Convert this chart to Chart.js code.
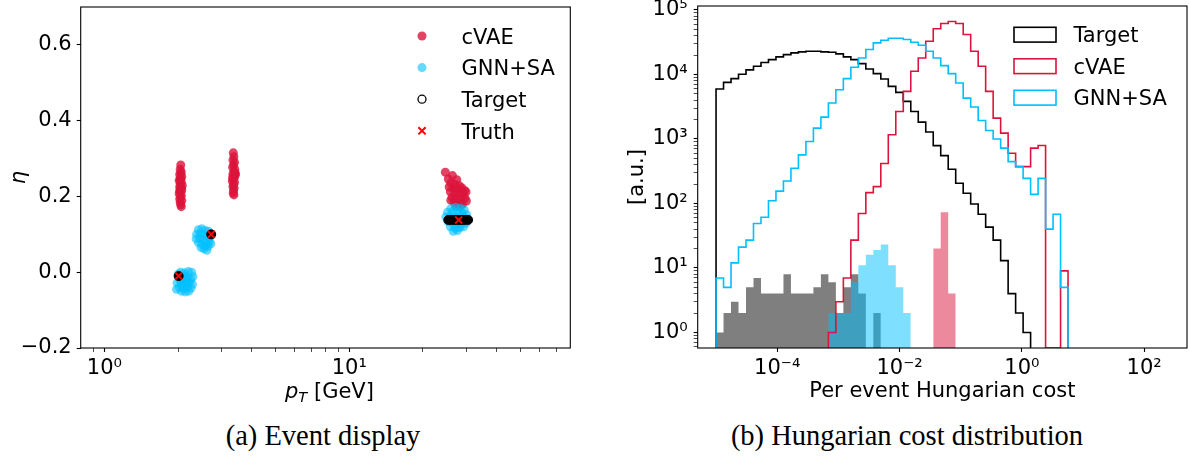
<!DOCTYPE html>
<html>
<head>
<meta charset="utf-8">
<title>Event display and Hungarian cost distribution</title>
<script src="https://cdn.jsdelivr.net/npm/chart.js@4.4.1/dist/chart.umd.min.js"></script>
<style>
  html, body { margin: 0; padding: 0; background: #fff; }
  #page { position: relative; width: 1189px; height: 456px; overflow: hidden; }
  canvas { position: absolute; top: 0; }
  .caption { position: absolute; top: 422px; line-height: 1; font-family: "Liberation Serif", serif;
             font-size: 28.5px; color: #000; white-space: nowrap; transform: translateX(-50%); }
</style>
</head>
<body>
<div id="page">
  <canvas id="eventDisplay" width="600" height="410" style="left:0"></canvas>
  <canvas id="costHist" width="589" height="410" style="left:600px"></canvas>
  <div class="caption" style="left:323px">(a) Event display</div>
  <div class="caption" style="left:907px">(b) Hungarian cost distribution</div>
</div>
<script>
// ---------- (a) event display: [pT, eta] ----------
const cvaePoints = [
  [2.05,0.283],[2.04,0.272],[2.06,0.265],[2.03,0.258],[2.07,0.252],[2.05,0.247],[2.02,0.242],
  [2.06,0.238],[2.04,0.233],[2.08,0.229],[2.03,0.225],[2.05,0.221],[2.07,0.216],[2.04,0.212],
  [2.02,0.207],[2.06,0.203],[2.05,0.198],[2.03,0.193],[2.07,0.189],[2.04,0.184],[2.05,0.178],
  [2.06,0.173],[2.05,0.260],[2.04,0.245],[2.06,0.222],[2.03,0.215],
  [3.36,0.315],[3.38,0.305],[3.35,0.296],[3.40,0.290],[3.37,0.283],[3.34,0.277],[3.41,0.271],
  [3.38,0.265],[3.35,0.259],[3.42,0.256],[3.39,0.250],[3.36,0.246],[3.33,0.241],[3.40,0.237],
  [3.37,0.232],[3.35,0.226],[3.39,0.222],[3.37,0.215],[3.36,0.209],[3.38,0.204],[3.41,0.262],
  [3.34,0.250],[3.43,0.260],
  [24.7,0.264],[26.4,0.255],[25.4,0.246],[27.5,0.244],[26.0,0.235],[27.0,0.232],[28.2,0.228],
  [25.6,0.225],[26.6,0.222],[27.6,0.219],[28.8,0.223],[29.6,0.216],[25.9,0.212],[27.0,0.208],
  [28.2,0.206],[29.2,0.205],[30.0,0.212],[26.3,0.198],[27.4,0.195],[28.6,0.193],[29.7,0.196],
  [26.8,0.186],[27.9,0.183],[29.0,0.180],[30.1,0.188],[27.2,0.176],[28.4,0.174],[26.0,0.190]
];
const gnnPoints = [
  [2.00,-0.005],[2.05,0.000],[2.12,-0.002],[2.20,0.002],[2.27,0.000],[2.30,-0.012],[2.25,-0.020],
  [2.18,-0.015],[2.10,-0.018],[2.03,-0.020],[1.98,-0.028],[2.06,-0.030],[2.14,-0.030],[2.22,-0.028],
  [2.29,-0.032],[2.26,-0.042],[2.18,-0.040],[2.10,-0.042],[2.02,-0.040],[1.97,-0.045],[2.06,-0.050],
  [2.14,-0.052],[2.21,-0.050],[2.12,-0.010],[2.17,-0.025],[2.08,-0.035],
  [2.42,0.112],[2.50,0.115],[2.58,0.110],[2.66,0.108],[2.38,0.100],[2.46,0.102],[2.55,0.098],
  [2.63,0.096],[2.70,0.092],[2.37,0.088],[2.45,0.090],[2.53,0.086],[2.61,0.082],[2.68,0.080],
  [2.42,0.078],[2.50,0.074],[2.58,0.070],[2.65,0.068],[2.55,0.062],[2.62,0.058],[2.48,0.065],
  [2.72,0.075],
  [26.0,0.168],[27.2,0.171],[28.4,0.169],[29.5,0.165],[25.2,0.158],[26.5,0.160],[27.8,0.158],
  [29.0,0.156],[30.2,0.152],[24.8,0.146],[25.8,0.148],[27.0,0.146],[28.2,0.147],[29.5,0.145],
  [30.6,0.140],[25.3,0.134],[26.4,0.130],[27.6,0.130],[28.8,0.128],[30.0,0.130],[25.9,0.120],
  [27.1,0.116],[28.3,0.118],[29.3,0.120],[26.6,0.108],[27.7,0.110]
];
const targetPoints = [
  [2.01,-0.010],[2.73,0.100],
  [25.4,0.138],[26.0,0.138],[26.7,0.138],[27.4,0.138],[28.1,0.138],[28.9,0.138],[29.7,0.138],[30.6,0.138]
];
const truthPoints = [[2.01,-0.010],[2.73,0.100],[28.0,0.138]];
const ptTicks = [0.9, 1, 2, 3, 4, 5, 6, 7, 8, 9, 10, 20, 30, 40, 50, 60, 70];
const ptLabelled = [1, 10];
const etaTicks = [-0.2, 0, 0.2, 0.4, 0.6];

// ---------- (b) Hungarian cost histograms (49 log bins from 1e-5 to 10) ----------
const binEdges = Array.from({length: 50}, (_, i) => Math.pow(10, -5 + 6 * i / 49));
const targetCounts = [5960,7530,8610,10050,11750,13370,15280,16980,18710,20320,
  21580,22390,22910,22910,22390,22080,20800,18710,16980,14720,
  12160,10280,8510,6530,5270,3820,2670,1820,1280,789,
  552,339,206,144,98,68,43,27,13,4,
  2,1,0,0,0,0,0,0,0];
const cvaeCounts = [0,0,0,0,0,0,0,0,0,0,
  0,0,0,0,0,1,3,7,27,70,
  147,182,417,1160,2670,5460,11200,18000,32700,51000,
  61700,66100,61700,41600,22900,13400,5460,2100,1230,601,
  372,372,720,790,0,0,9,0,0];
const gnnCounts = [7,5,12,21,27,49,61,110,155,223,
  352,566,912,1470,2180,3600,5800,8600,12900,18000,
  24300,30900,33900,36400,36400,34800,31600,28400,22900,18000,
  13700,10300,7380,4300,3120,1930,1350,1000,720,445,
  372,245,138,245,40,68,5,0,0];
const targetFillCounts = [1,2,3,2,5,7,4,4,4,8, 4,4,4,5,8,6,2,5,8,4, 0,2,0,0,0,0,0,0,0,0,
  0,0,0,0,0,0,0,0,0,0, 0,0,0,0,0,0,0,0,0];
const gnnFillCounts = [0,0,0,0,0,0,0,0,0,0, 0,0,0,0,0,2,2,2,6,11, 16,19,23,11,5,2,0,0,0,0,
  0,0,0,0,0,0,0,0,0,0, 0,0,0,0,0,0,0,0,0];
const cvaeFillCounts = [0,0,0,0,0,0,0,0,0,0, 0,0,0,0,0,0,0,0,0,0, 0,0,0,0,0,0,0,0,0,20,
  73,4,0,0,0,0,0,0,0,0, 0,0,0,0,0,0,0,0,0];
const costTicks = [1e-4, 1e-2, 1, 1e2];
const countDecades = [1, 10, 100, 1000, 10000, 100000];
const countTicks = [0.6, 0.7, 0.8, 0.9].concat(
  [1, 10, 100, 1000, 10000].flatMap(d => [1, 2, 3, 4, 5, 6, 7, 8, 9].map(m => m * d)), [100000]);

const COST_MIN = Math.pow(10, -5.3), COST_MAX = Math.pow(10, 2.7);
const COUNT_MIN = Math.pow(10, -0.241), COUNT_MAX = Math.pow(10, 5.061);

const FONT = 'DejaVu Sans';
Chart.defaults.font.family = FONT;
Chart.defaults.font.size = 21;
Chart.defaults.color = '#000';

const SUP = {'-': '\u207B', '0': '\u2070', '1': '\u00B9', '2': '\u00B2', '3': '\u00B3', '4': '\u2074', '5': '\u2075'};
function pow10Label(v) {
  const e = Math.round(Math.log10(v));
  return '10' + String(e).split('').map(c => SUP[c]).join('');
}
function isDecade(v) {
  const l = Math.log10(v);
  return Math.abs(l - Math.round(l)) < 1e-9;
}
const toXY = pts => pts.map(([x, y]) => ({x, y}));

// step outline points for one histogram, empty bins sit on the axis floor
function stepPoints(counts) {
  let i0 = counts.findIndex(c => c > 0);
  let i1 = counts.length - 1;
  while (i1 > i0 && counts[i1] <= 0) i1--;
  const pts = [{x: binEdges[i0], y: COUNT_MIN}];
  for (let i = i0; i <= i1; i++) pts.push({x: binEdges[i], y: counts[i] > 0 ? counts[i] : COUNT_MIN});
  pts.push({x: binEdges[i1 + 1], y: COUNT_MIN});
  return pts;
}
function histLine(label, counts, color) {
  return {label, data: stepPoints(counts), stepped: true, borderColor: color, borderWidth: 1.6,
          pointRadius: 0, fill: false};
}
function histFill(counts, color) {
  return {data: stepPoints(counts), stepped: true, borderColor: 'rgba(0,0,0,0)', borderWidth: 0,
          pointRadius: 0, fill: 'start', backgroundColor: color};
}

function zeroPad(s) { s.paddingLeft = s.paddingRight = s.paddingTop = s.paddingBottom = 0; }
const tickGrid = {
  drawOnChartArea: false, tickLength: 4, color: '#000',
  tickWidth: c => (c.tick && c.tick.major) ? 1.1 : 0.7
};

const frame = {
  id: 'frame',
  afterDatasetsDraw(chart) {
    const {ctx, chartArea: a} = chart;
    ctx.save();
    ctx.strokeStyle = '#000';
    ctx.lineWidth = 1.1;
    ctx.strokeRect(a.left, a.top, a.right - a.left, a.bottom - a.top);
    ctx.restore();
  }
};

const eventLegend = {
  id: 'eventLegend',
  afterDraw(chart) {
    const ctx = chart.ctx;
    ctx.save();
    ctx.font = '21px "' + FONT + '"';
    ['cVAE', 'GNN+SA', 'Target', 'Truth'].forEach((name, i) => {
      const ds = chart.data.datasets.find(d => d.label === name);
      const x = 422, y = 36 + 31.6 * i;
      ctx.beginPath();
      if (name === 'Truth') {
        ctx.strokeStyle = ds.pointBorderColor;
        ctx.lineWidth = 2;
        ctx.moveTo(x - 3.6, y - 3.6); ctx.lineTo(x + 3.6, y + 3.6);
        ctx.moveTo(x + 3.6, y - 3.6); ctx.lineTo(x - 3.6, y + 3.6);
        ctx.stroke();
      } else if (name === 'Target') {
        ctx.strokeStyle = '#000';
        ctx.lineWidth = 1.3;
        ctx.arc(x, y, 4, 0, Math.PI * 2);
        ctx.stroke();
      } else {
        ctx.fillStyle = ds.backgroundColor;
        ctx.arc(x, y, 4.5, 0, Math.PI * 2);
        ctx.fill();
      }
      ctx.fillStyle = '#000';
      ctx.fillText(name, 461.5, y + 7.7);
    });
    ctx.restore();
  }
};

const ptTitle = {
  id: 'ptTitle',
  afterDraw(chart) {
    const ctx = chart.ctx;
    ctx.save();
    ctx.fillStyle = '#000';
    let x = 285;
    const y = 398;
    ctx.font = 'italic 21px "' + FONT + '"';
    ctx.fillText('p', x, y);
    x += ctx.measureText('p').width;
    ctx.font = 'italic 14.7px "' + FONT + '"';
    ctx.fillText('T', x, y + 3.5);
    x += ctx.measureText('T').width;
    ctx.font = '21px "' + FONT + '"';
    ctx.fillText(' [GeV]', x, y);
    ctx.restore();
  }
};

const costLegend = {
  id: 'costLegend',
  afterDraw(chart) {
    const ctx = chart.ctx;
    ctx.save();
    ctx.font = '21px "' + FONT + '"';
    ['Target', 'cVAE', 'GNN+SA'].forEach((name, i) => {
      const ds = chart.data.datasets.find(d => d.label === name);
      const y = 34.7 + 31.5 * i;
      ctx.strokeStyle = ds.borderColor;
      ctx.lineWidth = 1.6;
      ctx.strokeRect(414, y - 7.4, 42, 14.8);
      ctx.fillStyle = '#000';
      ctx.fillText(name, 473.5, y + 7.7);
    });
    ctx.restore();
  }
};

new Chart(document.getElementById('eventDisplay'), {
  type: 'scatter',
  data: {
    datasets: [
      {label: 'Truth', data: toXY(truthPoints), pointStyle: 'crossRot', pointRadius: 5,
       pointBorderColor: '#ff0000', pointBackgroundColor: '#ff0000', pointBorderWidth: 2},
      {label: 'Target', data: toXY(targetPoints), pointStyle: 'circle', pointRadius: 4.5,
       pointBackgroundColor: '#000', pointBorderColor: '#000', pointBorderWidth: 1},
      {label: 'GNN+SA', data: toXY(gnnPoints), pointRadius: 4.5, backgroundColor: 'rgba(0,191,255,0.6)',
       pointBackgroundColor: 'rgba(0,191,255,0.6)', pointBorderWidth: 0},
      {label: 'cVAE', data: toXY(cvaePoints), pointRadius: 4.5, backgroundColor: 'rgba(220,20,60,0.8)',
       pointBackgroundColor: 'rgba(220,20,60,0.8)', pointBorderWidth: 0}
    ]
  },
  options: {
    responsive: false,
    animation: false,
    layout: {padding: {left: 0, top: 6.3, right: 29.7, bottom: 0}},
    plugins: {legend: {display: false}, tooltip: {enabled: false}},
    scales: {
      x: {
        type: 'logarithmic', min: 0.8, max: 80,
        afterBuildTicks: s => { s.ticks = ptTicks.map(v => ({value: v, major: ptLabelled.includes(v)})); },
        afterFit: s => { s.height = 62; zeroPad(s); },
        ticks: {autoSkip: false, maxRotation: 0, minRotation: 0, padding: 4,
                callback: v => ptLabelled.includes(v) ? pow10Label(v) : ''},
        grid: tickGrid,
        border: {display: false}
      },
      y: {
        type: 'linear', min: -0.2, max: 0.7,
        afterBuildTicks: s => { s.ticks = etaTicks.map(v => ({value: v, major: true})); },
        afterFit: s => { s.width = 80.7; zeroPad(s); },
        ticks: {padding: 5, callback: v => v.toFixed(1).replace('-', '\u2212')},
        grid: tickGrid,
        border: {display: false},
        title: {display: true, text: '\u03B7', font: {size: 21, style: 'italic'}, padding: {top: 6.5, bottom: 0}}
      }
    }
  },
  plugins: [frame, eventLegend, ptTitle]
});

new Chart(document.getElementById('costHist'), {
  type: 'line',
  data: {
    datasets: [
      histLine('GNN+SA', gnnCounts, '#00BFFF'),
      histLine('cVAE', cvaeCounts, '#DC143C'),
      histLine('Target', targetCounts, '#000000'),
      histFill(gnnFillCounts, 'rgba(0,191,255,0.5)'),
      histFill(targetFillCounts, 'rgba(0,0,0,0.5)'),
      histFill(cvaeFillCounts, 'rgba(220,20,60,0.5)')
    ]
  },
  options: {
    responsive: false,
    animation: false,
    layout: {padding: {left: 0, top: 6, right: 2, bottom: 0}},
    plugins: {legend: {display: false}, tooltip: {enabled: false}},
    scales: {
      x: {
        type: 'logarithmic', min: COST_MIN, max: COST_MAX,
        afterBuildTicks: s => { s.ticks = costTicks.map(v => ({value: v, major: true})); },
        afterFit: s => { s.height = 62; zeroPad(s); },
        ticks: {autoSkip: false, maxRotation: 0, minRotation: 0, padding: 4, callback: v => pow10Label(v)},
        grid: tickGrid,
        border: {display: false},
        title: {display: true, text: 'Per event Hungarian cost', font: {size: 21}, padding: {top: 0, bottom: 6.2}}
      },
      y: {
        type: 'logarithmic', min: COUNT_MIN, max: COUNT_MAX,
        afterBuildTicks: s => { s.ticks = countTicks.map(v => ({value: v, major: isDecade(v)})); },
        afterFit: s => { s.width = 97.7; zeroPad(s); },
        ticks: {autoSkip: false, padding: 6, callback: v => countDecades.includes(v) ? pow10Label(v) : ''},
        grid: tickGrid,
        border: {display: false},
        title: {display: true, text: '[a.u.]', font: {size: 21}, padding: {top: 24.5, bottom: 0}}
      }
    }
  },
  plugins: [frame, costLegend]
});
</script>
</body>
</html>
